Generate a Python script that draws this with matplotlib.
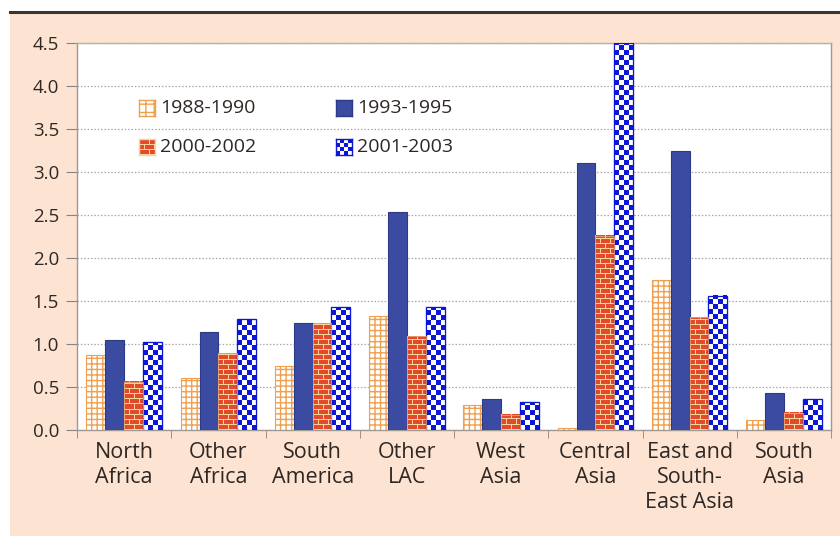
import numpy as np
import matplotlib.pyplot as plt
from matplotlib.colors import ListedColormap
from matplotlib.patches import Rectangle

regions = ["North\nAfrica", "Other\nAfrica", "South\nAmerica", "Other\nLAC",
           "West\nAsia", "Central\nAsia", "East and\nSouth-\nEast Asia", "South\nAsia"]
periods = ["1988-1990", "1993-1995", "2000-2002", "2001-2003"]

v_1988 = [0.87, 0.60, 0.75, 1.32, 0.29, 0.02, 1.75, 0.12]
v_1993 = [1.05, 1.14, 1.25, 2.53, 0.36, 3.11, 3.25, 0.43]
v_2000 = [0.56, 0.89, 1.24, 1.09, 0.18, 2.26, 1.31, 0.20]
v_2001 = [1.02, 1.29, 1.43, 1.43, 0.32, 4.50, 1.56, 0.36]

yticks = np.arange(0, 4.51, 0.5)

# renkler
peach = "#fde4d2"
text_c = "#2e2724"
orange = "#f0a04e"
navy = "#3b4ba2"
brick_red = "#e24a2b"
mortar = "#f8d49a"
check_blue = "#0b16d6"


def brick_pattern(nx, ny):
    yy, xx = np.mgrid[0:ny, 0:nx]
    row = yy // 5
    a = (yy % 5 == 0)
    a |= ((xx + (row % 2) * 5) % 10 == 0)
    return a.astype(float)


def checker_pattern(nx, ny, cell=5):
    yy, xx = np.mgrid[0:ny, 0:nx]
    return (((xx // cell) + (yy // cell)) % 2).astype(float)


fig = plt.figure(figsize=(8.4, 5.36), dpi=100)
fig.patch.set_facecolor("white")
fig.add_artist(Rectangle((10 / 840, 0), 1, 1 - 14 / 536, transform=fig.transFigure,
                         facecolor=peach, edgecolor="none", zorder=0))
fig.add_artist(plt.Line2D([10 / 840, 1], [1 - 12 / 536] * 2, transform=fig.transFigure,
                          color="#3a3530", linewidth=2.2, zorder=1))

ax = fig.add_axes([77 / 840, 106 / 536, 754 / 840, 387 / 536])
ax.set_facecolor("white")
ax.set_xlim(-0.5, len(regions) - 0.5)
ax.set_ylim(0, 4.5)

x = np.arange(len(regions))
w = 0.2

ax.bar(x - 0.3, v_1988, w, color="white", edgecolor=orange, hatch="+++",
       linewidth=0.8, zorder=3)
ax.bar(x - 0.1, v_1993, w, color=navy, edgecolor="#2c3a88", linewidth=0.8, zorder=3)
b_brick = ax.bar(x + 0.1, v_2000, w, color=brick_red, edgecolor=mortar, linewidth=0.6, zorder=3)
b_check = ax.bar(x + 0.3, v_2001, w, color="white", edgecolor=check_blue, linewidth=0.8, zorder=3)

# desen dolgulari: bar icine kirpilmis goruntu
def fill_pattern(bars, maker, cmap):
    for p in bars:
        x0, y0 = p.get_x(), p.get_y()
        x1, y1 = x0 + p.get_width(), y0 + p.get_height()
        (px0, py0), (px1, py1) = ax.transData.transform([(x0, y0), (x1, y1)])
        nx = max(int(round(px1 - px0)), 1)
        ny = max(int(round(py1 - py0)), 1)
        ax.imshow(maker(nx, ny), extent=[x0, x1, y0, y1], origin="lower", cmap=cmap,
                  vmin=0, vmax=1, interpolation="nearest", aspect="auto",
                  clip_path=p, zorder=3.5)

fill_pattern(b_brick, brick_pattern, ListedColormap([brick_red, mortar]))
fill_pattern(b_check, checker_pattern, ListedColormap(["white", check_blue]))
ax.bar(x + 0.3, v_2001, w, fill=False, edgecolor=check_blue, linewidth=0.9, zorder=4)
ax.bar(x + 0.1, v_2000, w, fill=False, edgecolor="#e8a070", linewidth=0.6, zorder=4)

ax.set_xlim(-0.5, len(regions) - 0.5)
ax.set_ylim(0, 4.5)

# eksenler
ax.set_yticks(yticks)
ax.set_yticklabels([f"{t:.1f}" for t in yticks])
ax.yaxis.grid(True, linestyle=(0, (1.2, 1.5)), color="#a8a8a8", linewidth=0.9, zorder=1)
ax.set_xticks(x)
ax.set_xticklabels(regions, fontsize=15.5, color=text_c, family="Open Sans",
                   linespacing=1.22, va="top", fontweight="medium")
ax.set_xticks(np.arange(-0.5, len(regions)), minor=True)
ax.tick_params(axis="x", which="major", length=0, pad=9)
ax.tick_params(axis="x", which="minor", length=6, color="#8a8280", direction="out")
ax.tick_params(axis="y", length=8, color="#8a8280", direction="out", pad=5,
               labelsize=13.5, labelcolor=text_c)
for lbl in ax.get_yticklabels():
    lbl.set_family("Open Sans")
    lbl.set_fontweight("medium")
for side in ["left", "bottom", "top", "right"]:
    ax.spines[side].set_color("#a09892")
    ax.spines[side].set_linewidth(1.0)
ax.spines["top"].set_color("#b8b0aa")

# elle cizilen lejant
swatch_x = [0.082, 0.3435, 0.082, 0.3435]
swatch_y = [0.811, 0.811, 0.711, 0.711]
text_order = [periods[0], periods[1], periods[2], periods[3]]
sw_w, sw_h = 0.0212, 0.0413
pats = [
    (np.zeros((4, 4)), ListedColormap(["white"]), orange, "++"),
    (np.zeros((4, 4)), ListedColormap([navy]), "#2c3a88", None),
    (brick_pattern(16, 16), ListedColormap([brick_red, mortar]), mortar, None),
    (checker_pattern(16, 16, cell=4), ListedColormap(["white", check_blue]), check_blue, None),
]
for i, (arr, cm, ec, hatch) in enumerate(pats):
    sax = ax.inset_axes([swatch_x[i], swatch_y[i], sw_w, sw_h])
    sax.imshow(arr, cmap=cm, vmin=0, vmax=1, interpolation="nearest", aspect="auto")
    if hatch:
        sax.add_patch(Rectangle((0, 0), 1, 1, transform=sax.transAxes, facecolor="none",
                                edgecolor=ec, hatch=hatch, linewidth=0))
    sax.set_xticks([])
    sax.set_yticks([])
    for s in sax.spines.values():
        s.set_color(ec)
        s.set_linewidth(1.0)
    ax.text(swatch_x[i] + 0.028, swatch_y[i] + sw_h / 2, text_order[i], transform=ax.transAxes,
            fontsize=14, color=text_c, family="Open Sans", fontweight="medium",
            va="center", ha="left")

fig.savefig("out.png", dpi=100, facecolor=fig.get_facecolor())
